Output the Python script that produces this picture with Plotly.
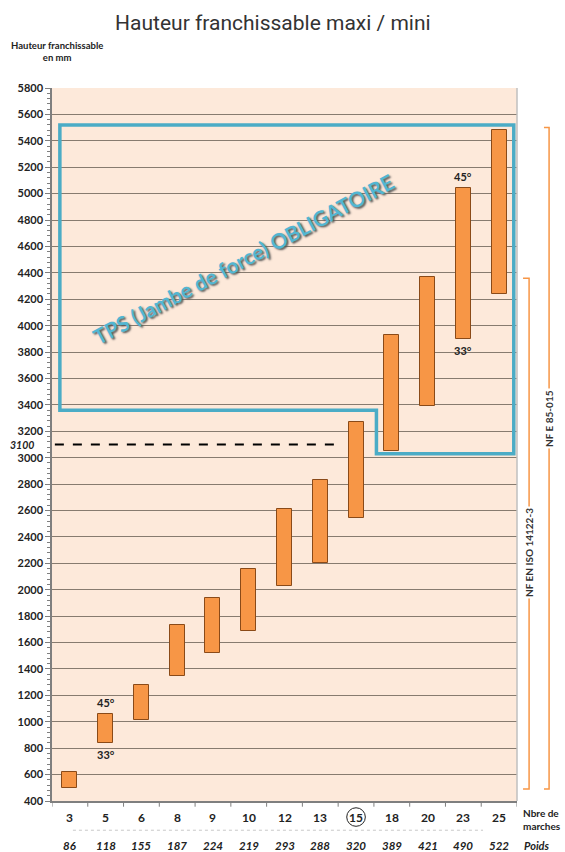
import plotly.graph_objects as go

# ---- data ----
marches = ["3", "5", "6", "8", "9", "10", "12", "13", "15", "18", "20", "23", "25"]
poids = ["86", "118", "155", "187", "224", "219", "293", "288", "320", "389", "421", "490", "522"]
h_min = [500, 840, 1010, 1350, 1520, 1690, 2030, 2200, 2540, 3050, 3390, 3900, 4240]
h_max = [620, 1060, 1280, 1730, 1940, 2160, 2610, 2830, 3270, 3930, 4370, 5040, 5480]
y_ticks = list(range(400, 5801, 200))

seuil_3100 = 3100
tps_haut = 5520
tps_bas_gauche = 3360
tps_bas_droite = 3030
nfe_range = [490, 5500]
iso_range = [490, 4360]

ORANGE = "#F79646"
BLUE = "#4BACC6"
FONT = "Lato, Open Sans, sans-serif"

idx = list(range(len(marches)))

fig = go.Figure()
fig.add_trace(go.Bar(
    x=idx,
    y=[a - b for a, b in zip(h_max, h_min)],
    base=h_min,
    width=0.42,
    marker=dict(color=ORANGE, line=dict(color="#8A4A18", width=1)),
    hoverinfo="skip",
    showlegend=False,
))

shapes = []
# TPS zone outline
xl, xs, xr = -0.28, 8.57, 12.41
shapes.append(dict(
    type="path", xref="x", yref="y",
    path=(f"M {xl},{tps_haut} L {xr},{tps_haut} L {xr},{tps_bas_droite} "
          f"L {xs},{tps_bas_droite} L {xs},{tps_bas_gauche} L {xl},{tps_bas_gauche} Z"),
    line=dict(color=BLUE, width=3.5), layer="above",
))
# dashed 3100 line
shapes.append(dict(type="line", xref="x", yref="y", x0=-0.42, x1=7.63,
                   y0=seuil_3100, y1=seuil_3100,
                   line=dict(color="black", width=2, dash="dash")))
# right border
shapes.append(dict(type="line", xref="paper", yref="paper", x0=1, x1=1, y0=0, y1=1,
                   line=dict(color="#BFBFBF", width=1.5)))
# category boundary ticks
for b in [i - 0.5 for i in range(len(marches) + 1)]:
    shapes.append(dict(type="line", xref="x", yref="paper", x0=b, x1=b, y0=0, y1=-0.008,
                       line=dict(color="#7f7f7f", width=1)))

# brackets
def bracket(xv, xt, y0, y1):
    return dict(type="path", xref="paper", yref="y",
                path=f"M {xt},{y1} L {xv},{y1} L {xv},{y0} L {xt},{y0}",
                line=dict(color=ORANGE, width=1.5))
shapes.append(bracket(1.069, 1.058, nfe_range[0], nfe_range[1]))
shapes.append(bracket(1.026, 1.013, iso_range[0], iso_range[1]))
# separator dotted line
shapes.append(dict(type="line", xref="paper", yref="paper", x0=0.045, x1=0.927,
                   y0=-0.041, y1=-0.041, line=dict(color="#C8C8C8", width=1, dash="dot")))
# circle round 15
i15 = marches.index("15")
shapes.append(dict(type="circle", xref="x", yref="paper", x0=i15 - 0.26, x1=i15 + 0.26,
                   y0=-0.0095, y1=-0.0355, line=dict(color="#222", width=1)))

ann = []
# TPS text
ann.append(dict(x=4.86, y=4506, xref="x", yref="y", text="<b>TPS (Jambe de force) OBLIGATOIRE</b>",
                textangle=-28, showarrow=False,
                font=dict(family=FONT, size=21, color="#52B6D2", shadow="1px 2px 2px #555")))
# angle labels
for cat in ["5", "23"]:
    i = marches.index(cat)
    ann.append(dict(x=i, y=h_max[i], xref="x", yref="y", text="<b>45°</b>", showarrow=False,
                    yanchor="bottom", yshift=3, font=dict(family=FONT, size=11, color="#222")))
    ann.append(dict(x=i, y=h_min[i], xref="x", yref="y", text="<b>33°</b>", showarrow=False,
                    yanchor="top", yshift=-3, font=dict(family=FONT, size=11, color="#222")))
# category row and poids row
for i, (c, p) in enumerate(zip(marches, poids)):
    ann.append(dict(x=i, y=-0.0225, xref="x", yref="paper", text=f"<b>{c}</b>",
                    xanchor="center", yanchor="middle",
                    showarrow=False, font=dict(family=FONT, size=12, color="#222")))
    ann.append(dict(x=i, y=-0.062, xref="x", yref="paper", text=f"<b><i>{p}</i></b>",
                    xanchor="center", yanchor="middle",
                    showarrow=False, font=dict(family=FONT, size=11.5, color="#222")))
ann.append(dict(x=1.01, y=-0.062, xref="paper", yref="paper", text="<b><i>Poids</i></b>",
                xanchor="left", yanchor="middle", showarrow=False,
                font=dict(family=FONT, size=11, color="#222")))
ann.append(dict(x=1.008, y=-0.0265, xref="paper", yref="paper", text="<b>Nbre de<br>marches</b>",
                xanchor="left", yanchor="middle", align="left", showarrow=False,
                font=dict(family=FONT, size=10, color="#222")))
# 3100 label
ann.append(dict(x=-0.035, y=seuil_3100, xref="paper", yref="y", text="<b><i>3100</i></b>",
                xanchor="right", yanchor="middle", showarrow=False,
                font=dict(family=FONT, size=10.5, color="#222")))
# y axis title
ann.append(dict(x=0.011, y=1.051, xref="paper", yref="paper",
                text="<b>Hauteur franchissable<br>en mm</b>", showarrow=False,
                xanchor="center", yanchor="middle",
                font=dict(family=FONT, size=9.5, color="#222")))
# bracket labels
ann.append(dict(x=1.069, y=3294, xref="paper", yref="y", text="<b>NF E 85-015</b>", textangle=-90,
                xanchor="center", yanchor="middle",
                showarrow=False, bgcolor="white", font=dict(family=FONT, size=10, color="#333")))
ann.append(dict(x=1.026, y=2279, xref="paper", yref="y", text="<b>NF EN ISO 14122-3</b>", textangle=-90,
                xanchor="center", yanchor="middle",
                showarrow=False, bgcolor="white", font=dict(family=FONT, size=10, color="#333")))

fig.update_layout(
    width=565, height=852,
    margin=dict(l=52, r=48, t=88, b=51),
    paper_bgcolor="white",
    plot_bgcolor="#FDE9DA",
    title=dict(text="Hauteur franchissable maxi / mini", x=0.483, y=0.974,
               xanchor="center", yanchor="middle",
               font=dict(family="Roboto, sans-serif", size=21, color="#333")),
    shapes=shapes,
    annotations=ann,
    bargap=0,
    xaxis=dict(range=[-0.5, len(marches) - 0.5], showticklabels=False, ticks="",
               showline=True, linecolor="#7f7f7f", linewidth=1.5,
               showgrid=False, zeroline=False, fixedrange=True),
    yaxis=dict(range=[400, 5800], tickvals=y_ticks, ticks="outside", ticklen=5,
               tickcolor="#7f7f7f", showline=True, linecolor="#7f7f7f", linewidth=1.5,
               gridcolor="#877B6F", gridwidth=1, zeroline=False,
               minor=dict(dtick=40, ticks="outside", ticklen=3, tickcolor="#7f7f7f", showgrid=False),
               tickfont=dict(family=FONT, size=11, color="#222", weight="bold"),
               fixedrange=True),
)

fig.write_html("out.html", config={"displayModeBar": False},
               post_script="document.body.style.margin='0';")
